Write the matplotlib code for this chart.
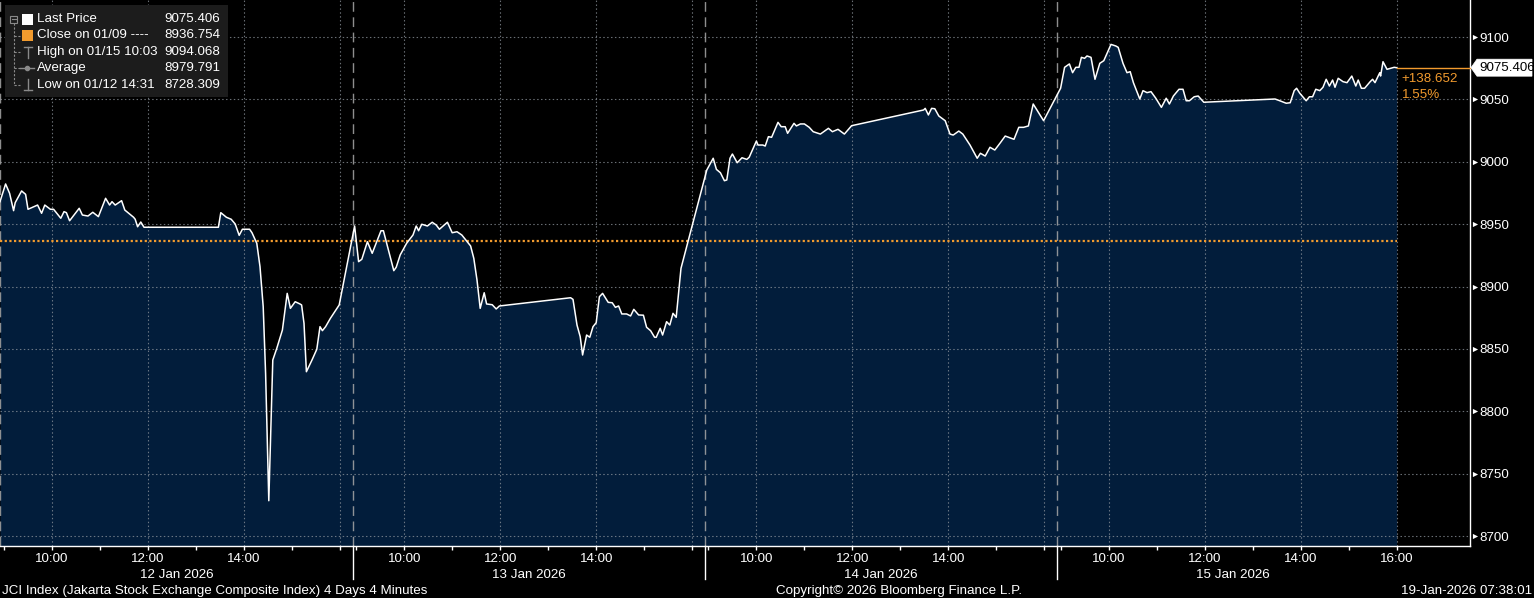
import matplotlib
matplotlib.use("Agg")
import matplotlib.pyplot as plt
import matplotlib.transforms as mtransforms
from matplotlib.patches import Rectangle, Polygon

plt.rcParams['font.family'] = ['Liberation Sans', 'DejaVu Sans']

W, H, DPI = 1534, 598, 100

# ---------------- data ----------------
day_names = ["12 Jan 2026", "13 Jan 2026", "14 Jan 2026", "15 Jan 2026"]

d1_time = ["08:55", "09:02", "09:07", "09:12", "09:14", "09:22", "09:27", "09:30", "09:42", "09:47",
           "09:51", "09:58", "10:02", "10:11", "10:15", "10:18", "10:22", "10:34", "10:38", "10:45",
           "10:51", "10:58", "11:07", "11:12", "11:15", "11:19", "11:27", "11:31", "11:42", "11:44",
           "11:47", "11:51", "11:55", "13:28", "13:31", "13:38", "13:44", "13:49", "13:54", "13:58",
           "14:07", "14:10", "14:16", "14:20", "14:24", "14:27", "14:31", "14:36", "14:41", "14:48",
           "14:54", "14:58", "15:04", "15:10", "15:12", "15:15", "15:18", "15:25", "15:31", "15:35",
           "15:38", "15:42", "15:48", "15:59"]
d1_price = [8968.0, 8982.2, 8974.7, 8960.8, 8967.2, 8976.6, 8973.9, 8961.9, 8965.3, 8958.7,
            8965.3, 8961.9, 8961.9, 8954.7, 8960.0, 8959.2, 8952.7, 8962.7, 8957.3, 8956.5,
            8959.5, 8956.0, 8970.7, 8965.3, 8968.0, 8965.3, 8968.8, 8961.3, 8955.5, 8953.9,
            8947.9, 8951.7, 8947.5, 8947.5, 8959.2, 8955.5, 8953.9, 8950.1, 8941.0, 8945.9,
            8945.9, 8943.1, 8934.6, 8915.9, 8883.8, 8830.4, 8728.3, 8841.1, 8850.5, 8865.1,
            8894.5, 8882.5, 8887.8, 8886.0, 8885.2, 8870.5, 8831.7, 8841.1, 8849.7, 8867.8,
            8864.6, 8867.8, 8874.5, 8885.2]

d2_time = ["08:58", "09:03", "09:07", "09:14", "09:20", "09:31", "09:34", "09:47", "09:50", "09:55",
           "10:03", "10:11", "10:15", "10:18", "10:22", "10:29", "10:35", "10:40", "10:44", "10:54",
           "11:00", "11:06", "11:12", "11:23", "11:27", "11:31", "11:35", "11:40", "11:43", "11:50",
           "11:55", "11:59", "13:28", "13:31", "13:36", "13:40", "13:43", "13:48", "13:52", "13:56",
           "14:00", "14:04", "14:08", "14:15", "14:20", "14:24", "14:28", "14:32", "14:38", "14:43",
           "14:47", "14:53", "14:59", "15:03", "15:08", "15:13", "15:15", "15:20", "15:23", "15:28",
           "15:32", "15:36", "15:40", "15:46"]
d2_price = [8948.5, 8919.9, 8921.8, 8935.9, 8926.6, 8944.7, 8944.7, 8912.7, 8915.4, 8925.3,
            8934.6, 8941.3, 8948.5, 8944.7, 8949.9, 8948.5, 8951.5, 8949.3, 8945.9, 8951.5,
            8943.1, 8943.9, 8941.3, 8932.5, 8922.6, 8905.2, 8882.5, 8895.0, 8886.0, 8885.4,
            8882.0, 8884.4, 8891.0, 8889.7, 8869.1, 8859.8, 8845.1, 8861.1, 8859.3, 8867.8,
            8871.0, 8891.8, 8894.5, 8887.3, 8887.0, 8883.3, 8884.4, 8878.0, 8878.0, 8876.4,
            8881.7, 8877.2, 8877.0, 8867.3, 8864.6, 8859.3, 8859.3, 8866.5, 8861.1, 8871.8,
            8869.1, 8878.5, 8875.3, 8914.6]

d3_time = ["08:58", "09:06", "09:10", "09:15", "09:20", "09:23", "09:27", "09:30", "09:36", "09:42",
           "09:48", "09:51", "10:00", "10:02", "10:08", "10:11", "10:15", "10:19", "10:27", "10:31",
           "10:36", "10:39", "10:47", "10:50", "10:55", "11:00", "11:06", "11:11", "11:20", "11:30",
           "11:35", "11:42", "11:50", "11:59", "13:29", "13:31", "13:35", "13:39", "13:43", "13:48",
           "13:56", "14:02", "14:06", "14:13", "14:18", "14:27", "14:36", "14:40", "14:46", "14:52",
           "14:58", "15:05", "15:11", "15:22", "15:28", "15:34", "15:40", "15:46", "15:59"]
d3_price = [8993.4, 9002.8, 8993.9, 8991.2, 8984.8, 8985.4, 9002.8, 9006.2, 8999.2, 9003.2,
            9001.9, 9003.6, 9016.6, 9013.4, 9013.4, 9012.6, 9020.1, 9019.6, 9031.6, 9028.1,
            9028.1, 9022.8, 9030.8, 9028.7, 9030.3, 9030.3, 9027.6, 9024.1, 9022.2, 9026.8,
            9024.1, 9026.0, 9022.2, 9028.9, 9041.5, 9042.8, 9037.5, 9042.8, 9042.5, 9036.7,
            9032.9, 9022.2, 9021.4, 9024.6, 9022.2, 9013.4, 9002.8, 9006.8, 9004.6, 9011.6,
            9009.4, 9015.3, 9020.6, 9018.0, 9027.6, 9027.6, 9028.7, 9046.3, 9032.9]

d4_time = ["09:00", "09:05", "09:11", "09:15", "09:19", "09:23", "09:26", "09:30", "09:33", "09:38",
           "09:43", "09:49", "09:54", "10:03", "10:09", "10:12", "10:18", "10:23", "10:27", "10:31",
           "10:39", "10:43", "10:48", "10:53", "10:59", "11:06", "11:12", "11:16", "11:21", "11:28",
           "11:33", "11:37", "11:41", "11:47", "11:52", "11:59", "13:28", "13:34", "13:42", "13:47",
           "13:52", "13:55", "13:59", "14:07", "14:11", "14:15", "14:19", "14:24", "14:28", "14:32",
           "14:36", "14:40", "14:43", "14:47", "14:53", "14:58", "15:04", "15:09", "15:12", "15:16",
           "15:20", "15:27", "15:30", "15:33", "15:39", "15:40", "15:43", "15:48", "15:57", "16:00"]
d4_price = [9058.9, 9075.7, 9078.4, 9071.4, 9075.7, 9075.7, 9083.7, 9082.9, 9084.8, 9083.7,
            9066.1, 9078.9, 9081.0, 9094.068, 9092.8, 9091.7, 9078.9, 9071.4, 9072.2, 9063.4,
            9050.3, 9057.0, 9055.4, 9056.2, 9050.9, 9043.6, 9050.9, 9046.3, 9052.7, 9058.1,
            9058.1, 9048.9, 9048.9, 9052.1, 9052.7, 9047.7, 9050.3, 9048.9, 9046.9, 9047.3,
            9057.0, 9058.9, 9054.9, 9048.9, 9052.1, 9052.1, 9058.1, 9057.0, 9059.7, 9066.1,
            9060.7, 9065.5, 9059.7, 9066.9, 9064.2, 9063.4, 9068.7, 9060.7, 9065.5, 9058.9,
            9058.9, 9064.2, 9066.1, 9063.4, 9071.4, 9068.7, 9080.2, 9074.1, 9075.7, 9075.406]

last_price = 9075.406
prev_close = 8936.754
high_price = 9094.068
average_price = 8979.791
low_price = 8728.309

legend_labels = ["Last Price", "Close on 01/09 ----", "High on 01/15 10:03", "Average", "Low on 01/12 14:31"]
legend_values = [last_price, prev_close, high_price, average_price, low_price]

y_ticks = [8700, 8750, 8800, 8850, 8900, 8950, 9000, 9050, 9100]
hour_ticks = [9, 10, 11, 12, 13, 14, 15, 16]
grid_hours = [10, 12, 14, 16]
labelled_hours = [[10, 12, 14], [10, 12, 14], [10, 12, 14], [10, 12, 14, 16]]

footer_left = "JCI Index (Jakarta Stock Exchange Composite Index) 4 Days 4 Minutes"
footer_mid = "Copyright\u00a9 2026 Bloomberg Finance L.P."
footer_right = "19-Jan-2026 07:38:01"

# ---------------- layout / style ----------------
DAY_SPAN = 7.3375     # x-units (hours) per trading day on the compressed axis
SEP_OFF = -0.077      # day separator offset from 09:00
FILL = '#021d3b'
ORANGE = '#f29b2e'
GRID = '#8f969e'
FS = 9.6


def xpos(day, hhmm):
    h, m = hhmm.split(':')
    return day * DAY_SPAN + int(h) + int(m) / 60.0 - 9


xs, ys = [], []
for d, (tt, pp) in enumerate([(d1_time, d1_price), (d2_time, d2_price),
                              (d3_time, d3_price), (d4_time, d4_price)]):
    xs += [xpos(d, t) for t in tt]
    ys += pp

fig = plt.figure(figsize=(W / DPI, H / DPI), dpi=DPI, facecolor='black')
AX_W, AX_H = 1470, 546
ax = fig.add_axes([0, 1 - AX_H / H, AX_W / W, AX_H / H])
ax.set_facecolor('black')
Y0, Y1 = 8692.0, 9129.66
ax.set_ylim(Y0, Y1)
ax.set_xlim(-4 / 48, (AX_W - 4) / 48)

ax.fill_between(xs, ys, Y0, color=FILL, lw=0, zorder=1)

# grid
for yt in y_ticks:
    ax.axhline(yt, color=GRID, lw=0.8, dashes=(1.3, 2.2), alpha=0.75, zorder=2)
for d in range(4):
    for gh in grid_hours:
        ax.axvline(d * DAY_SPAN + gh - 9, color=GRID, lw=0.8, dashes=(1.3, 2.2), alpha=0.75, zorder=2)
    ax.axvline(d * DAY_SPAN + SEP_OFF, color='#a8a8a8', lw=1.0, dashes=(7, 4), alpha=0.85, zorder=2)

# previous close
ax.plot([ax.get_xlim()[0], xs[-1]], [prev_close, prev_close], color=ORANGE, lw=1.6,
        dashes=(1, 1.1), zorder=3)

ax.plot(xs, ys, color='white', lw=1.1, zorder=4, solid_joinstyle='round')

# last price marker line
ax.plot([xs[-1], ax.get_xlim()[1]], [last_price, last_price], color=ORANGE, lw=1.0, zorder=4,
        clip_on=False)
chg = last_price - prev_close
pct = chg / prev_close * 100
ax.annotate(f"+{chg:.3f}", xy=(xs[-1], last_price), xytext=(5, -14.5), textcoords='offset pixels',
            color=ORANGE, fontsize=FS, ha='left', va='baseline')
ax.annotate(f"{pct:.2f}%", xy=(xs[-1], last_price), xytext=(5, -30), textcoords='offset pixels',
            color=ORANGE, fontsize=FS, ha='left', va='baseline')

# spines
for s in ['top', 'left']:
    ax.spines[s].set_visible(False)
for s in ['bottom', 'right']:
    ax.spines[s].set_color('white')
    ax.spines[s].set_linewidth(1.0)

# y axis on the right
ax.yaxis.tick_right()
ax.set_yticks(y_ticks)
ax.set_yticklabels([str(v) for v in y_ticks])
ax.tick_params(axis='y', length=0, pad=6.8, labelcolor='white', labelsize=FS)
bt = mtransforms.blended_transform_factory(ax.transAxes, ax.transData)
ax.scatter([1 + 5 / AX_W] * len(y_ticks), y_ticks, marker='>', s=14, color='white', lw=0,
           transform=bt, clip_on=False, zorder=5)

# x axis
xt = [d * DAY_SPAN + h - 9 for d in range(4) for h in hour_ticks]
ax.set_xticks(xt)
ax.set_xticklabels([])
ax.tick_params(axis='x', length=2.7, width=1, color='white', direction='out')
bx = mtransforms.blended_transform_factory(ax.transData, ax.transAxes)
for d in range(4):
    for h in labelled_hours[d]:
        ax.text(d * DAY_SPAN + h - 9, -(561.5 - AX_H) / AX_H, f"{h}:00", transform=bx,
                color='white', fontsize=FS, ha='center', va='baseline')
    ax.text(d * DAY_SPAN + SEP_OFF + DAY_SPAN / 2, -(577.5 - AX_H) / AX_H, day_names[d],
            transform=bx, color='white', fontsize=FS, ha='center', va='baseline')
    if d > 0:
        sx = d * DAY_SPAN + SEP_OFF
        ax.plot([sx, sx], [0, -(579 - AX_H) / AX_H], transform=bx, color='white', lw=1.0,
                clip_on=False)

# ---------------- overlay (legend, footer, price tag) in pixel coords ----------------
ov = fig.add_axes([0, 0, 1, 1], zorder=10)
ov.set_xlim(0, W)
ov.set_ylim(H, 0)
ov.axis('off')
ov.patch.set_visible(False)

# price tag at the right axis, aligned to the last price
fig.canvas.draw()
_, tag_y = ov.transData.inverted().transform(ax.transData.transform((0, last_price)))
ov.add_patch(Polygon([(1471, tag_y), (1477, tag_y - 8.5), (1532, tag_y - 8.5),
                      (1532, tag_y + 8.5), (1477, tag_y + 8.5)], closed=True,
                     fc='white', ec='white', lw=0.5))
ov.text(1479.5, tag_y + 0.5, f"{last_price:.3f}", color='black', fontsize=FS, ha='left', va='center')

ov.add_patch(Rectangle((5, 5), 223, 92, fc='#1c1c1c', ec='none'))
rows = [19.5, 35.5, 52, 68.3, 84.5]
TREE = '#8a8a8a'
# tree
ov.add_patch(Rectangle((10, 15.5), 7, 7, fc='none', ec=TREE, lw=0.8))
ov.plot([11.5, 15.5], [19, 19], color=TREE, lw=0.8)
ov.plot([13.5, 13.5], [23, rows[-1]], color=TREE, lw=0.8, dashes=(2, 1.5))
for r in rows[1:]:
    ov.plot([13.5, 20], [r, r], color=TREE, lw=0.8, dashes=(2, 1.5))
# icons
ov.add_patch(Rectangle((22, 14), 11, 11, fc='white', ec='none'))
ov.add_patch(Rectangle((22, 30), 11, 11, fc=ORANGE, ec='none'))
ov.plot([23.5, 31.5], [46.5, 46.5], color=TREE, lw=1.0)
ov.plot([27.5, 27.5], [46.5, 57.5], color=TREE, lw=1.0)
ov.plot([20, 34], [68.3, 68.3], color=TREE, lw=1.0)
ov.plot([27], [68.3], marker='o', ms=3, color=TREE)
ov.plot([27.5, 27.5], [79, 90], color=TREE, lw=1.0)
ov.plot([23.5, 31.5], [90, 90], color=TREE, lw=1.0)
for r, lab, val in zip(rows, legend_labels, legend_values):
    ov.text(37, r, lab, color='white', fontsize=FS, ha='left', va='center')
    ov.text(220, r, f"{val:.3f}", color='white', fontsize=FS, ha='right', va='center')

ov.text(2, 594, footer_left, color='white', fontsize=FS, ha='left', va='baseline')
ov.text(899, 594, footer_mid, color='white', fontsize=FS, ha='center', va='baseline')
ov.text(1532, 594, footer_right, color='white', fontsize=FS, ha='right', va='baseline')

fig.savefig('out.png', dpi=DPI, facecolor='black')
